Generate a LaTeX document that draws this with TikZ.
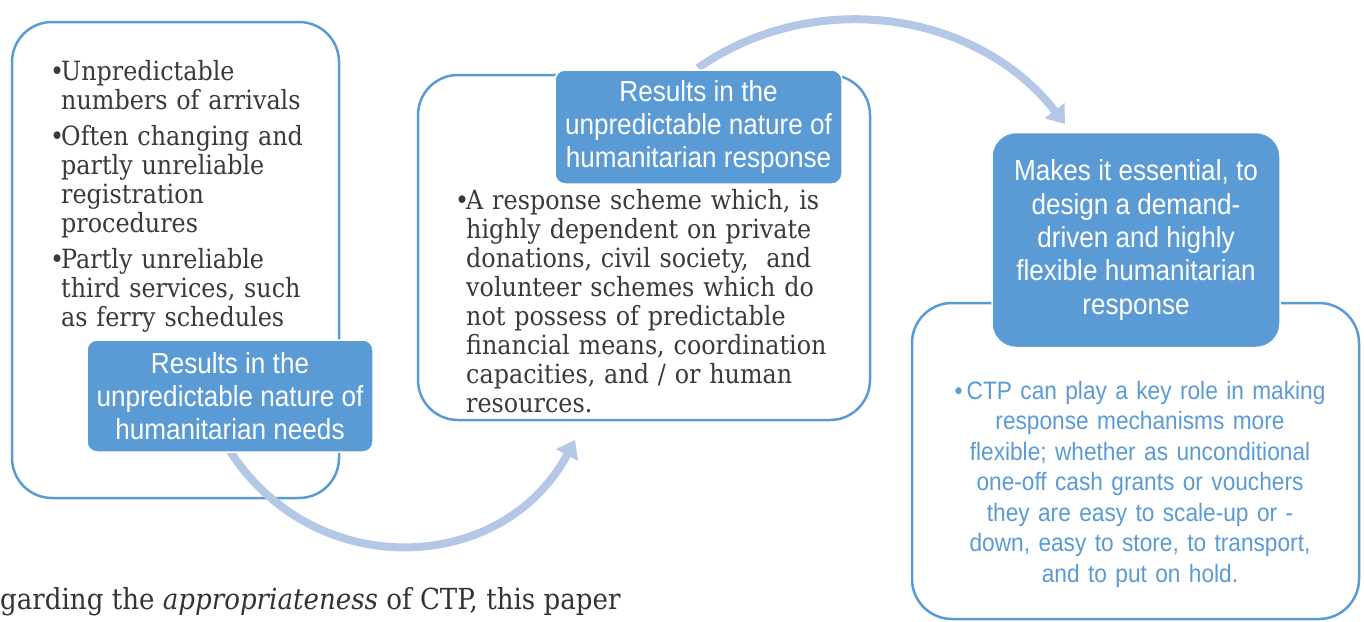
\documentclass[tikz,border=0pt]{standalone}
\usepackage{fontspec}
\setmainfont{DejaVu Serif}[FakeStretch=0.9]
\newfontfamily\headfont{Liberation Sans}[FakeStretch=0.9]
\usetikzlibrary{arrows.meta}

\definecolor{boxblue}{HTML}{5B9BD5}
\definecolor{flowblue}{HTML}{B4C7E7}
\definecolor{textgray}{HTML}{3A3A3A}

% bullet with hanging indent
\newcommand\bitem{\par\hangindent=11pt\hangafter=1\noindent\makebox[11pt][l]{\textbullet}}

\begin{document}
\begin{tikzpicture}[x=1pt,y=-1pt]
    \tikzstyle{outer}=[draw=boxblue,line width=2.5pt,rounded corners=40pt,fill=white]
    \tikzstyle{head}=[fill=boxblue,draw=white,line width=1.5pt,rounded corners=10pt,text=white,align=center,font=\headfont\fontsize{29}{33.3}\selectfont]
    \tikzstyle{bullets}=[anchor=north west,inner sep=0pt,text=textgray,align=left,font=\fontsize{26.5}{29}\selectfont\setlength{\parskip}{7pt}]
    \tikzstyle{flow}=[draw=flowblue,line width=8pt,-{Triangle[length=17pt,width=24pt]}]

    \useasboundingbox (0,0) rectangle (1364,621);

    % outer boxes
    \node[outer,minimum width=327pt,minimum height=476pt] (box-1) at (175.5,260) {};
    \node[outer,minimum width=452pt,minimum height=345pt] (box-2) at (644,247.5) {};
    \node[outer,minimum width=447pt,minimum height=316pt] (box-3) at (1135.5,461) {};

    % box contents
    \node[bullets,text width=290pt] (text-1) at (50,44) {%
        \bitem Unpredictable\newline numbers of arrivals
        \bitem Often changing and\newline partly unreliable\newline registration\newline procedures
        \bitem Partly unreliable\newline third services, such\newline as ferry schedules\par};
    \node[bullets,text width=400pt] (text-2) at (455,173) {%
        \bitem A response scheme which, is\newline highly dependent on private\newline donations, civil society,\ \ and\newline volunteer schemes which do\newline not possess of predictable\newline financial means, coordination\newline capacities, and / or human\newline resources.\par};
    \node[anchor=north,inner sep=0pt,text=boxblue,align=center,text width=420pt,
          font=\headfont\fontsize{25.2}{30.5}\selectfont] (text-3) at (1140,381) {%
        \textbullet\,CTP can play a key role in making\\response mechanisms more\\flexible; whether as unconditional\\one-off cash grants or vouchers\\they are easy to scale-up or -\\down, easy to store, to transport,\\and to put on hold.};

    % curved arrows between the steps
    \coordinate (tip-1) at (575,440);
    \coordinate (tip-2) at (1065,124);
    \draw[flow] (230,451) .. controls +(85,132) and +(-72,135) .. (tip-1);
    \draw[flow] (698,68) .. controls +(118,-82) and +(-87,-112) .. (tip-2);

    % step headers
    \node[head,minimum width=286pt,minimum height=112pt] (head-1) at (230,396)
        {Results in the\\unpredictable nature of\\humanitarian needs};
    \node[head,minimum width=287pt,minimum height=114pt] (head-2) at (698.5,127)
        {Results in the\\unpredictable nature of\\humanitarian response};
    \node[head,minimum width=288pt,minimum height=215pt,rounded corners=24pt] (head-3) at (1136,240)
        {Makes it essential, to\\design a demand-\\driven and highly\\flexible humanitarian\\response};

    \node[anchor=base west,inner sep=0pt,text=black!80,font=\fontsize{29}{32}\selectfont] (para) at (0,609)
        {garding the \emph{appropriateness} of CTP, this paper};
\end{tikzpicture}
\end{document}
